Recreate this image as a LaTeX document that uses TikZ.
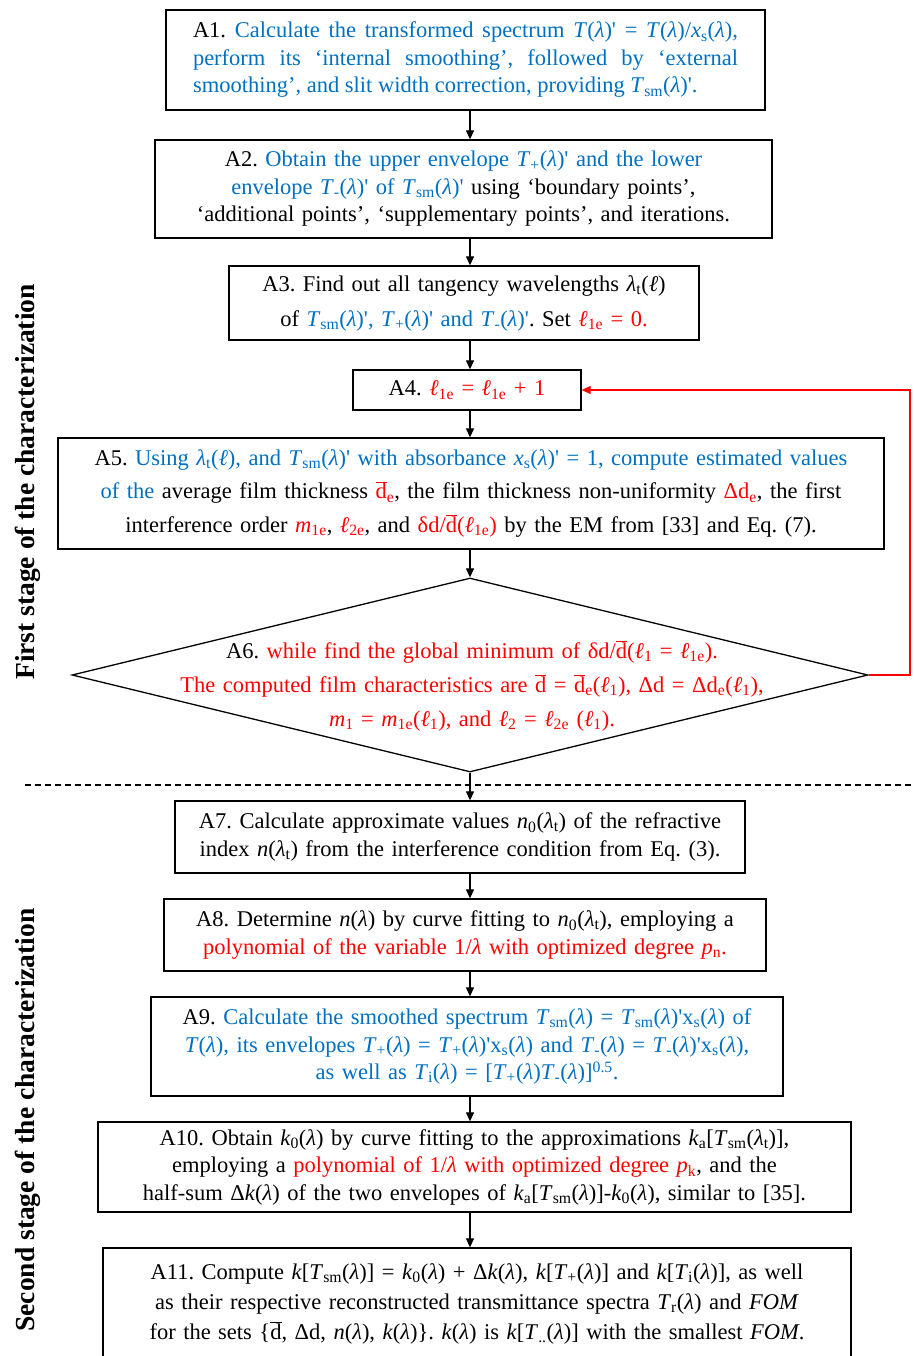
\documentclass[tikz,border=0pt]{standalone}
\usepackage{fontspec}
\setmainfont{Liberation Serif}
\newfontfamily\lblfont{Liberation Serif}
\usetikzlibrary{shapes.geometric,arrows.meta}
\definecolor{tblue}{RGB}{0,112,192}
\definecolor{tred}{RGB}{255,0,0}
\newcommand{\Lm}{\textit{λ}}
\newcommand{\Tx}[1]{\textit{T}\textsubscript{#1}}
\newcommand{\db}{$\overline{\hbox{d}}$}
\newcommand{\El}{\textit{ℓ}}
\newcommand{\p}{\textquotesingle}
\frenchspacing
\tikzset{
  box/.style={draw, line width=1.3pt, inner sep=3pt, align=center,
    font=\fontsize{22.5}{27.5}\selectfont},
  arr/.style={-{Triangle[length=9pt,width=8pt]}, line width=1.2pt},
  lbl/.style={rotate=90, font=\lblfont\bfseries\fontsize{27.5}{30}\selectfont}
}
\begin{document}
\begin{tikzpicture}[x=1pt,y=-1pt]
\useasboundingbox (0,0) rectangle (913,1356);
\coordinate (sp) at (470,0);
\coordinate (fb) at (910,0);

\node[box, minimum width=599pt, minimum height=100pt, text width=545pt, align=justify] (A1) at (465.5,60)
{A1. {\color{tblue}Calculate the transformed spectrum \textit{T}(\Lm)\p{} = \textit{T}(\Lm)/\textit{x}\textsubscript{s}(\Lm),\linebreak perform its ‘internal smoothing’, followed by ‘external\linebreak smoothing’, and slit width correction, providing \Tx{sm}(\Lm)\p.}};

\node[box, minimum width=617pt, minimum height=98pt, text width=603pt] (A2) at (463.5,189)
{A2. {\color{tblue}Obtain the upper envelope \Tx{+}(\Lm)\p{} and the lower\\ envelope \Tx{-}(\Lm)\p{} of \Tx{sm}(\Lm)\p} using ‘boundary points’,\\ ‘additional points’, ‘supplementary points’, and iterations.};

\node[box, minimum width=470pt, minimum height=74pt, text width=456pt, font=\fontsize{22.5}{35}\selectfont] (A3) at (464,303)
{A3. Find out all tangency wavelengths \Lm\textsubscript{t}(\El)\\ of {\color{tblue}\Tx{sm}(\Lm)\p, \Tx{+}(\Lm)\p{} and \Tx{-}(\Lm)\p}. Set {\color{tred}\El\textsubscript{1e} = 0.}};

\node[box, minimum width=228pt, minimum height=40pt, text width=214pt] (A4) at (467,390)
{A4. {\color{tred}\El\textsubscript{1e} = \El\textsubscript{1e} + 1}};

\node[box, minimum width=826pt, minimum height=111pt, text width=812pt, font=\fontsize{22.5}{33.5}\selectfont] (A5) at (471,493.5)
{A5. {\color{tblue}Using \Lm\textsubscript{t}(\El), and \Tx{sm}(\Lm)\p{} with absorbance \textit{x}\textsubscript{s}(\Lm)\p{} = 1, compute estimated values\\ of the} average film thickness {\color{tred}\db\textsubscript{e}}, the film thickness non-uniformity {\color{tred}Δd\textsubscript{e}}, the first\\ interference order {\color{tred}\textit{m}\textsubscript{1e}}, {\color{tred}\El\textsubscript{2e}}, and {\color{tred}δd/\db(\El\textsubscript{1e})} by the EM from [33] and Eq. (7).};

\node[diamond, draw, line width=1.3pt, minimum width=796pt, minimum height=194pt, inner sep=0pt] (A6) at (470,675) {};
\node[align=center, text width=720pt, inner sep=0pt, font=\fontsize{22.5}{34}\selectfont] (A6t) at (472,686)
{A6. {\color{tred}while find the global minimum of δd/\db(\El\textsubscript{1} = \El\textsubscript{1e}).\\ The computed film characteristics are \db{} = \db\textsubscript{e}(\El\textsubscript{1}), Δd = Δd\textsubscript{e}(\El\textsubscript{1}),\\ \textit{m}\textsubscript{1} = \textit{m}\textsubscript{1e}(\El\textsubscript{1}), and \El\textsubscript{2} = \El\textsubscript{2e} (\El\textsubscript{1}).}};

\draw[dashed, dash pattern=on 6pt off 4pt, line width=1.1pt] (25,785) coordinate (dl) -- (913,785) coordinate (dr);

\node[box, minimum width=570pt, minimum height=72pt, text width=556pt] (A7) at (460,837)
{A7. Calculate approximate values \textit{n}\textsubscript{0}(\Lm\textsubscript{t}) of the refractive\\ index \textit{n}(\Lm\textsubscript{t}) from the interference condition from Eq. (3).};

\node[box, minimum width=602pt, minimum height=72pt, text width=588pt] (A8) at (465,935)
{A8. Determine \textit{n}(\Lm) by curve fitting to \textit{n}\textsubscript{0}(\Lm\textsubscript{t}), employing a\\ {\color{tred}polynomial of the variable 1/\Lm{} with optimized degree \textit{p}\textsubscript{n}.}};

\node[box, minimum width=632pt, minimum height=99pt, text width=618pt] (A9) at (467,1046.5)
{A9. {\color{tblue}Calculate the smoothed spectrum \Tx{sm}(\Lm) = \Tx{sm}(\Lm)\p{}x\textsubscript{s}(\Lm) of\\ \textit{T}(\Lm), its envelopes \Tx{+}(\Lm) = \Tx{+}(\Lm)\p{}x\textsubscript{s}(\Lm) and \Tx{-}(\Lm) = \Tx{-}(\Lm)\p{}x\textsubscript{s}(\Lm),\\ as well as \Tx{i}(\Lm) = [\Tx{+}(\Lm)\Tx{-}(\Lm)]\textsuperscript{0.5}.}};

\node[box, minimum width=753pt, minimum height=90pt, text width=739pt] (A10) at (474.5,1167)
{A10. Obtain \textit{k}\textsubscript{0}(\Lm) by curve fitting to the approximations \textit{k}\textsubscript{a}[\Tx{sm}(\Lm\textsubscript{t})],\\ employing a {\color{tred}polynomial of 1/\Lm{} with optimized degree \textit{p}\textsubscript{k}}, and the\\ half-sum Δ\textit{k}(\Lm) of the two envelopes of \textit{k}\textsubscript{a}[\Tx{sm}(\Lm)]-\textit{k}\textsubscript{0}(\Lm), similar to [35].};

\node[box, minimum width=748pt, minimum height=112pt, text width=734pt, font=\fontsize{22.5}{30}\selectfont] (A11) at (477,1304)
{A11. Compute \textit{k}[\Tx{sm}(\Lm)] = \textit{k}\textsubscript{0}(\Lm) + Δ\textit{k}(\Lm), \textit{k}[\Tx{+}(\Lm)] and \textit{k}[\Tx{i}(\Lm)], as well\\ as their respective reconstructed transmittance spectra \Tx{r}(\Lm) and \textit{FOM}\\ for the sets \{\db, Δd, \textit{n}(\Lm), \textit{k}(\Lm)\}. \textit{k}(\Lm) is \textit{k}[\Tx{..}(\Lm)] with the smallest \textit{FOM}.};

\node[lbl] (L1) at (28,482) {First stage of the characterization};
\node[lbl] (L2) at (28,1120) {Second stage of the characterization};

\draw[arr] (A1.south -| sp) -- (A2.north -| sp);
\draw[arr] (A2.south -| sp) -- (A3.north -| sp);
\draw[arr] (A3.south -| sp) -- (A4.north -| sp);
\draw[arr] (A4.south -| sp) -- (A5.north -| sp);
\draw[arr] (A5.south -| sp) -- (A6.north -| sp);
\draw[arr] (A6.south -| sp) -- (A7.north -| sp);
\draw[arr] (A7.south -| sp) -- (A8.north -| sp);
\draw[arr] (A8.south -| sp) -- (A9.north -| sp);
\draw[arr] (A9.south -| sp) -- (A10.north -| sp);
\draw[arr] (A10.south -| sp) -- (A11.north -| sp);
\draw[arr, tred] (A6.east) -- (A6.east -| fb) |- (A4.east);
\end{tikzpicture}
\end{document}
